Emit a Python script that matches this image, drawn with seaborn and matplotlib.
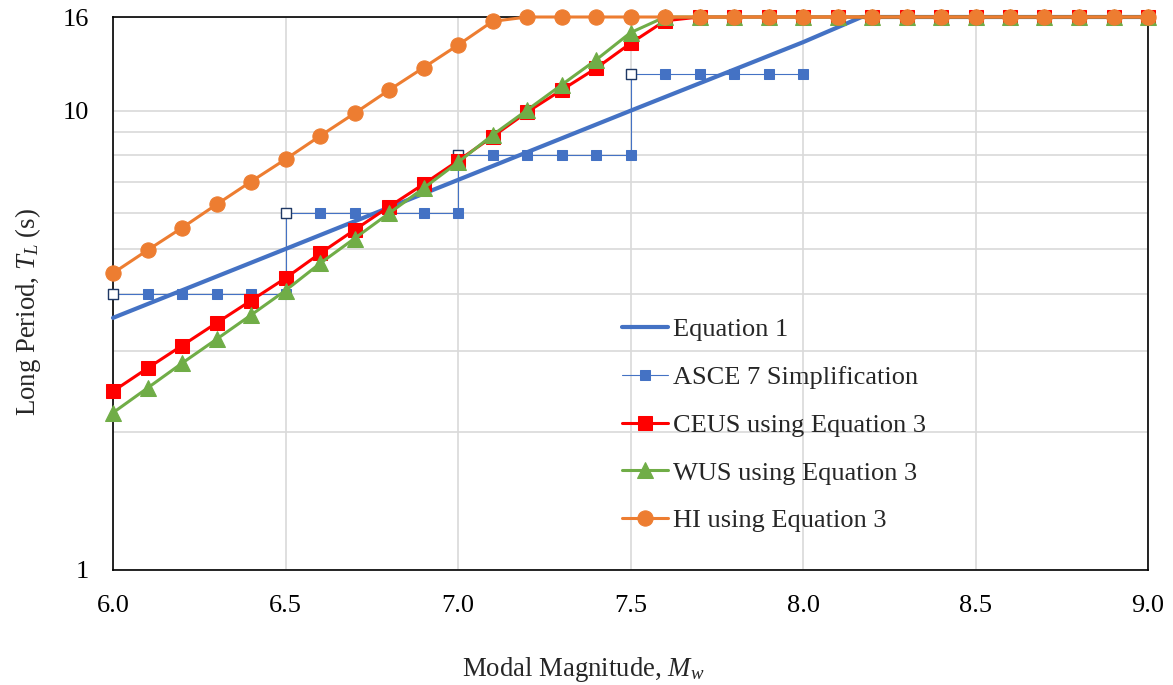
import matplotlib
matplotlib.use("Agg")
import matplotlib.pyplot as plt
import seaborn as sns
import numpy as np
from matplotlib.ticker import FixedLocator, NullFormatter, FixedFormatter

# ---------------- data ----------------
mag = [6.0, 6.1, 6.2, 6.3, 6.4, 6.5, 6.6, 6.7, 6.8, 6.9,
       7.0, 7.1, 7.2, 7.3, 7.4, 7.5, 7.6, 7.7, 7.8, 7.9,
       8.0, 8.1, 8.2, 8.3, 8.4, 8.5, 8.6, 8.7, 8.8, 8.9, 9.0]

ceus = [2.45, 2.75, 3.08, 3.45, 3.86, 4.32, 4.89, 5.50, 6.18, 6.92,
        7.78, 8.78, 9.93, 11.09, 12.37, 14.02, 15.7, 16, 16, 16,
        16, 16, 16, 16, 16, 16, 16, 16, 16, 16, 16]

wus = [2.20, 2.49, 2.82, 3.18, 3.59, 4.06, 4.65, 5.27, 5.98, 6.78,
       7.72, 8.85, 10.03, 11.38, 12.9, 14.79, 16, 16, 16, 16,
       16, 16, 16, 16, 16, 16, 16, 16, 16, 16, 16]

hi = [4.43, 4.97, 5.56, 6.25, 7.01, 7.84, 8.81, 9.87, 11.09, 12.41,
      13.9, 15.65, 16, 16, 16, 16, 16, 16, 16, 16,
      16, 16, 16, 16, 16, 16, 16, 16, 16, 16, 16]

eq1_mag = [6.0, 6.5, 7.0, 7.5, 8.0, 8.17, 9.0]
eq1_t = [3.54, 5.0, 7.07, 10.0, 14.1, 16, 16]

asce_mag = [6.0, 6.1, 6.2, 6.3, 6.4, 6.5,
            6.5, 6.6, 6.7, 6.8, 6.9, 7.0,
            7.0, 7.1, 7.2, 7.3, 7.4, 7.5,
            7.5, 7.6, 7.7, 7.8, 7.9, 8.0]
asce_t = [4, 4, 4, 4, 4, 4,
          6, 6, 6, 6, 6, 6,
          8, 8, 8, 8, 8, 8,
          12, 12, 12, 12, 12, 12]
asce_open_mag = [6.0, 6.5, 7.0, 7.5]
asce_open_t = [4, 6, 8, 12]

labels = ["Equation 1", "ASCE 7 Simplification", "CEUS using Equation 3",
          "WUS using Equation 3", "HI using Equation 3"]
xticks = [6.0, 6.5, 7.0, 7.5, 8.0, 8.5, 9.0]
xticklabels = ["6.0", "6.5", "7.0", "7.5", "8.0", "8.5", "9.0"]
yticks = [1, 10, 16]
yticklabels = ["1", "10", "16"]
yminor = [2, 3, 4, 5, 6, 7, 8, 9]

# ---------------- style ----------------
sns.set_theme(style="white")
plt.rcParams["font.family"] = ["Liberation Serif", "DejaVu Serif"]
plt.rcParams["mathtext.fontset"] = "custom"
plt.rcParams["mathtext.rm"] = "Liberation Serif"
plt.rcParams["mathtext.it"] = "Liberation Serif:italic"

BLUE = "#4472C4"
RED = "#FF0000"
GREEN = "#70AD47"
ORANGE = "#ED7D31"
NAVY = "#1F3864"
GRID = "#D9D9D9"

fig = plt.figure(figsize=(11.73, 6.85), dpi=100)
ax = fig.add_axes([113 / 1173, 1 - 570 / 685, (1148 - 113) / 1173, 553 / 685])

common = dict(ax=ax, sort=False, estimator=None, clip_on=False, legend=False)

sns.lineplot(x=eq1_mag, y=eq1_t, color=BLUE, lw=3.0, zorder=3, **common)
h_eq1 = ax.lines[-1]

sns.lineplot(x=asce_mag, y=asce_t, color=BLUE, lw=0.8, marker="s",
             markersize=7.5, markeredgecolor=BLUE, markerfacecolor=BLUE,
             zorder=3, **common)
h_asce = ax.lines[-1]
sns.scatterplot(x=asce_open_mag, y=asce_open_t, marker="s", s=60,
                facecolor="white", edgecolor=NAVY, linewidth=1.0,
                zorder=3.5, ax=ax, clip_on=False, legend=False)

sns.lineplot(x=mag, y=ceus, color=RED, lw=2.2, marker="s", markersize=9.5,
             markeredgecolor=RED, markerfacecolor=RED, zorder=4, **common)
h_ceus = ax.lines[-1]

sns.lineplot(x=mag, y=wus, color=GREEN, lw=2.2, marker="^", markersize=11,
             markeredgecolor=GREEN, markerfacecolor=GREEN, zorder=5, **common)
h_wus = ax.lines[-1]

sns.lineplot(x=mag, y=hi, color=ORANGE, lw=2.2, marker="o", markersize=11,
             markeredgecolor=ORANGE, markerfacecolor=ORANGE, zorder=6, **common)
h_hi = ax.lines[-1]

# ---------------- axes ----------------
ax.set_yscale("log")
ax.set_xlim(6.0, 9.0)
ax.set_ylim(1, 16)
ax.xaxis.set_major_locator(FixedLocator(xticks))
ax.xaxis.set_major_formatter(FixedFormatter(xticklabels))
ax.yaxis.set_major_locator(FixedLocator(yticks))
ax.yaxis.set_major_formatter(FixedFormatter(yticklabels))
ax.yaxis.set_minor_locator(FixedLocator(yminor))
ax.yaxis.set_minor_formatter(NullFormatter())

ax.grid(True, which="major", axis="both", color=GRID, lw=1.2, zorder=0)
ax.grid(True, which="minor", axis="y", color=GRID, lw=1.2, zorder=0)
ax.set_axisbelow(True)

ax.tick_params(axis="both", which="both", length=0, labelsize=19, colors="black")
ax.tick_params(axis="y", pad=17)
ax.tick_params(axis="x", pad=18)

for s in ax.spines.values():
    s.set_visible(True)
    s.set_color("black")
    s.set_linewidth(1.2)
    s.set_zorder(2)

ax.set_xlabel("Modal Magnitude, $M_w$", fontsize=19.3)
ax.xaxis.set_label_coords((583 - 113) / (1148 - 113), -(655 - 570) / 553)
ax.set_ylabel("Long Period, $T_L$ (s)", fontsize=19.3)
ax.yaxis.set_label_coords(-(113 - 28) / (1148 - 113), (570 - 312) / 553)
ax.yaxis.label.set_va("center")
ax.xaxis.label.set_va("top")

leg = ax.legend([h_eq1, h_asce, h_ceus, h_wus, h_hi], labels,
                loc="upper left", bbox_to_anchor=(622 / 1173, 1 - 318 / 685),
                bbox_transform=fig.transFigure, frameon=False, fontsize=19,
                handlelength=1.75, handletextpad=0.2, labelspacing=0.92,
                borderpad=0, borderaxespad=0)
leg.set_zorder(10)

fig.savefig("out.png", dpi=100, facecolor="white")
